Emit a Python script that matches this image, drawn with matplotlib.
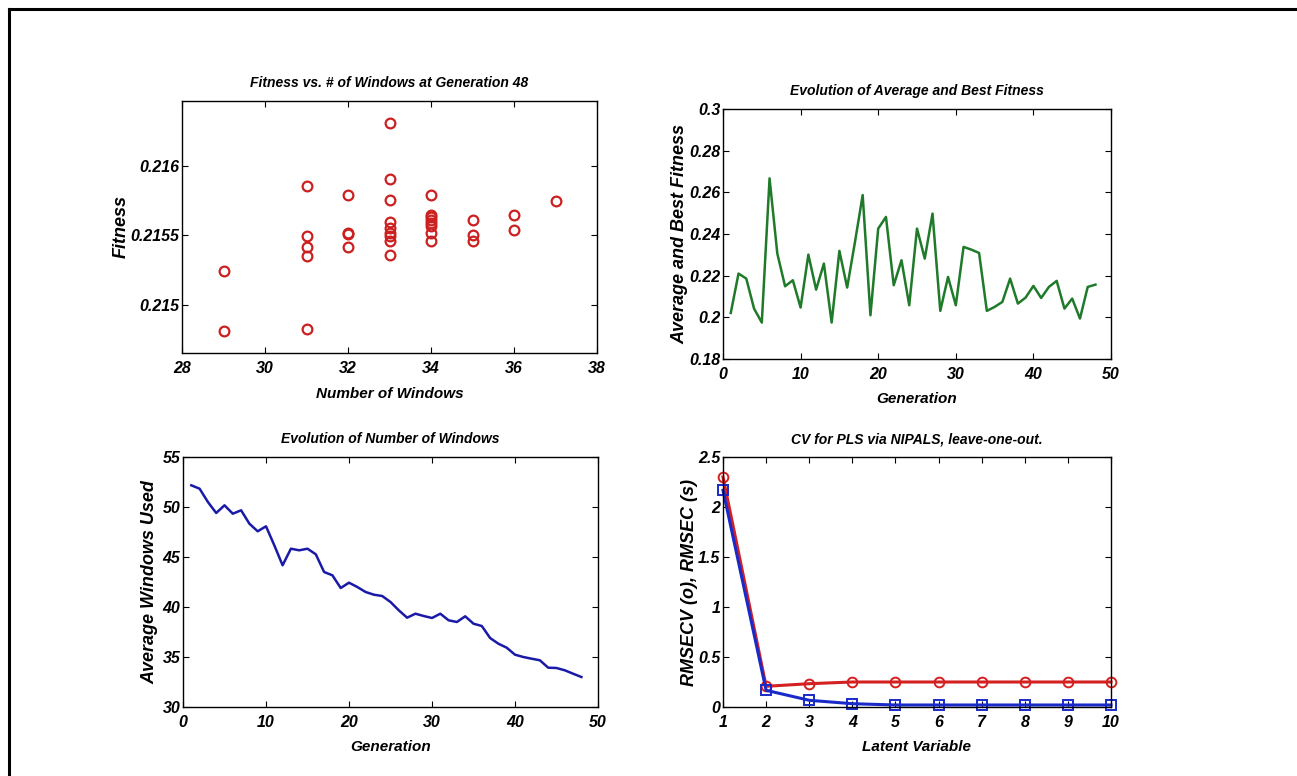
import numpy as np
import matplotlib.pyplot as plt
from matplotlib.lines import Line2D

plt.rcParams['font.family'] = ['Liberation Sans', 'DejaVu Sans']

# Fitness vs number of windows at generation 48
win_x = [29, 29,
         31, 31, 31, 31, 31,
         32, 32, 32, 32,
         33, 33, 33, 33, 33, 33, 33, 33, 33,
         34, 34, 34, 34, 34, 34, 34, 34,
         35, 35, 35,
         36, 36,
         37]
win_fit = [0.215245, 0.214808,
           0.215856, 0.215496, 0.215415, 0.215348, 0.214820,
           0.215791, 0.215520, 0.215506, 0.215415,
           0.216314, 0.215904, 0.215755, 0.215595, 0.215552, 0.215516, 0.215492, 0.215460, 0.215360,
           0.215791, 0.215647, 0.215630, 0.215612, 0.215588, 0.215564, 0.215516, 0.215460,
           0.215612, 0.215504, 0.215460,
           0.215647, 0.215540,
           0.215748]

generation = list(range(1, 49))
avg_fitness = [0.2021, 0.2210, 0.2186, 0.2042, 0.1975, 0.2667, 0.2306, 0.2149, 0.2178, 0.2047,
               0.2301, 0.2133, 0.2258, 0.1975, 0.2319, 0.2143, 0.2360, 0.2587, 0.2010, 0.2426,
               0.2482, 0.2154, 0.2274, 0.2058, 0.2426, 0.2282, 0.2498, 0.2031, 0.2194, 0.2058,
               0.2338, 0.2325, 0.2309, 0.2031, 0.2050, 0.2074, 0.2186, 0.2066, 0.2095, 0.2151,
               0.2093, 0.2146, 0.2175, 0.2042, 0.2090, 0.1994, 0.2146, 0.2157]

avg_windows = [52.17, 51.83, 50.5, 49.4, 50.17, 49.33, 49.67, 48.33, 47.57, 48.07,
               46.17, 44.17, 45.83, 45.67, 45.83, 45.27, 43.5, 43.17, 41.9, 42.43,
               42.0, 41.5, 41.23, 41.1, 40.5, 39.67, 38.93, 39.33, 39.1, 38.9,
               39.33, 38.67, 38.5, 39.07, 38.33, 38.1, 36.9, 36.33, 35.93, 35.23,
               35.0, 34.83, 34.67, 33.93, 33.9, 33.67, 33.33, 33.0]

latent = list(range(1, 11))
rmsecv = [2.30, 0.207, 0.233, 0.25, 0.25, 0.25, 0.25, 0.25, 0.25, 0.25]
rmsec = [2.167, 0.167, 0.067, 0.033, 0.02, 0.02, 0.02, 0.02, 0.02, 0.02]

W, H = 1297, 776
fig = plt.figure(figsize=(W / 100, H / 100), dpi=100)


def make_axes(l, r, t, b):
    return fig.add_axes([l / W, 1 - b / H, (r - l) / W, (b - t) / H])


xlabel_font = dict(fontsize=11, fontweight='bold', fontstyle='italic')
ylabel_font = dict(fontsize=13, fontweight='bold', fontstyle='italic')
title_font = dict(fontsize=10, fontweight='bold', fontstyle='italic')


def style(ax, ylab_x):
    ax.tick_params(direction='in', top=True, right=True, length=4, width=0.8)
    ax.tick_params(axis='x', pad=6)
    ax.tick_params(axis='y', pad=2)
    for s in ax.spines.values():
        s.set_linewidth(1.0)
    for lab in ax.get_xticklabels() + ax.get_yticklabels():
        lab.set_fontsize(11.5)
        lab.set_fontweight('bold')
        lab.set_fontstyle('italic')
    ax.yaxis.set_label_coords(ylab_x, 0.5)


# top left
ax1 = make_axes(182, 597, 101, 353)
ax1.plot(win_x, win_fit, 'o', mfc='none', mec='#cc2020', ms=7, mew=1.6)
ax1.set_xlim(28, 38)
ax1.set_ylim(0.21465, 0.21647)
ax1.set_yticks([0.215, 0.2155, 0.216])
ax1.set_yticklabels(['0.215', '0.2155', '0.216'])
ax1.set_title('Fitness vs. # of Windows at Generation 48', pad=10, **title_font)
ax1.set_xlabel('Number of Windows', labelpad=8, **xlabel_font)
ax1.set_ylabel('Fitness', **ylabel_font)
style(ax1, -0.125)

# top right
ax2 = make_axes(723, 1111, 109, 359)
ax2.plot(generation, avg_fitness, color='#1f7a2a', lw=1.8)
ax2.set_xlim(0, 50)
ax2.set_ylim(0.18, 0.3)
ax2.set_yticks([0.18, 0.2, 0.22, 0.24, 0.26, 0.28, 0.3])
ax2.set_yticklabels(['0.18', '0.2', '0.22', '0.24', '0.26', '0.28', '0.3'])
ax2.set_title('Evolution of Average and Best Fitness', pad=10, **title_font)
ax2.set_xlabel('Generation', labelpad=7, **xlabel_font)
ax2.set_ylabel('Average and Best Fitness', **ylabel_font)
style(ax2, -0.09)

# bottom left
ax3 = make_axes(183, 598, 457, 707)
ax3.plot(generation, avg_windows, color='#1a1aa8', lw=1.8)
ax3.set_xlim(0, 50)
ax3.set_ylim(30, 55)
ax3.set_title('Evolution of Number of Windows', pad=10, **title_font)
ax3.set_xlabel('Generation', labelpad=7, **xlabel_font)
ax3.set_ylabel('Average Windows Used', **ylabel_font)
style(ax3, -0.06)

# bottom right
ax4 = make_axes(723, 1111, 457, 707)
ax4.plot(latent, rmsecv, '-o', color='#d42020', mfc='none', ms=7, mew=1.4, lw=2.2)
ax4.plot(latent, rmsec, '-s', color='#1a2ac8', mfc='none', ms=7, mew=1.4, lw=2.2)
ax4.set_xlim(1, 10)
ax4.set_ylim(0, 2.5)
ax4.set_xticks(latent)
ax4.set_yticks([0, 0.5, 1, 1.5, 2, 2.5])
ax4.set_yticklabels(['0', '0.5', '1', '1.5', '2', '2.5'])
ax4.set_title('CV for PLS via NIPALS, leave-one-out.', pad=10, **title_font)
ax4.set_xlabel('Latent Variable', labelpad=7, **xlabel_font)
ax4.set_ylabel('RMSECV (o), RMSEC (s)', **ylabel_font)
for ln in ax4.get_lines():
    ln.set_clip_on(False)
style(ax4, -0.065)

# frame lines on top and left edges
fig.add_artist(Line2D([9 / W, 1.0], [1 - 9 / H, 1 - 9 / H], color='black', lw=2.2,
                      transform=fig.transFigure))
fig.add_artist(Line2D([9 / W, 9 / W], [0.0, 1 - 9 / H], color='black', lw=2.2,
                      transform=fig.transFigure))

fig.savefig('out.png', dpi=100)
